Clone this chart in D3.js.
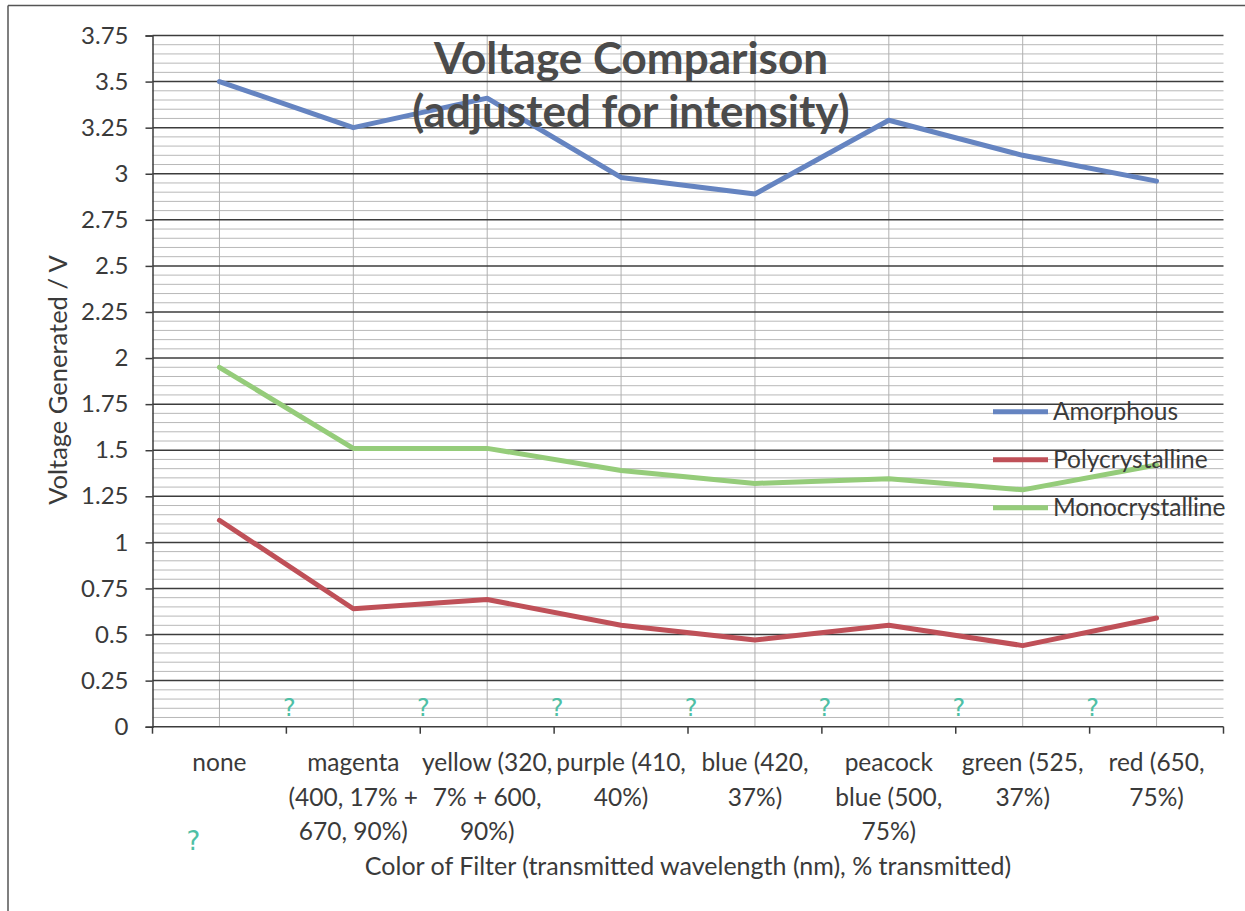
<!DOCTYPE html>
<html>
<head>
<meta charset="utf-8">
<script src="https://cdn.jsdelivr.net/npm/d3@7"></script>
<style>
  body { margin: 0; background: #fff; }
  svg { display: block; }
  text { font-family: Lato, "Open Sans", sans-serif; fill: #3a3a3a; }
</style>
</head>
<body>
<div id="chart"></div>
<script>
// data
var categories = ["none", "magenta", "yellow", "purple", "blue", "peacock blue", "green", "red"];
var tickLines = [
  ["none"],
  ["magenta", "(400, 17% +", "670, 90%)"],
  ["yellow (320,", "7% + 600,", "90%)"],
  ["purple (410,", "40%)"],
  ["blue (420,", "37%)"],
  ["peacock", "blue (500,", "75%)"],
  ["green (525,", "37%)"],
  ["red (650,", "75%)"]
];
var amorphous = [3.50, 3.25, 3.41, 2.98, 2.89, 3.29, 3.10, 2.96];
var polycrystalline = [1.12, 0.64, 0.69, 0.55, 0.47, 0.55, 0.44, 0.59];
var monocrystalline = [1.95, 1.51, 1.51, 1.39, 1.32, 1.345, 1.285, 1.42];
var seriesNames = ["Amorphous", "Polycrystalline", "Monocrystalline"];
var yTicks = [0, 0.25, 0.5, 0.75, 1, 1.25, 1.5, 1.75, 2, 2.25, 2.5, 2.75, 3, 3.25, 3.5, 3.75];

var w = 1245, h = 911;
var colors = ["#6584c1", "#bf5058", "#95cc7a"];
var series = [amorphous, polycrystalline, monocrystalline];

var svg = d3.select("#chart").append("svg")
    .attr("width", w)
    .attr("height", h);

// outer frame (top + left edges visible in the scan)
svg.append("line").attr("x1", 8).attr("x2", w).attr("y1", 5.5).attr("y2", 5.5)
    .attr("stroke", "#555").attr("stroke-width", 1.5);
svg.append("line").attr("x1", 8).attr("x2", 8).attr("y1", 5.5).attr("y2", h)
    .attr("stroke", "#555").attr("stroke-width", 1.5);

var plotL = 152.5, plotR = 1223.5, plotT = 35.5, plotB = 726.7;

var xScale = d3.scaleBand()
    .domain(categories)
    .range([plotL, plotR])
    .padding(0);

var yScale = d3.scaleLinear()
    .domain([0, 3.75])
    .range([plotB, plotT]);

var xc = function (c) { return xScale(c) + xScale.bandwidth() / 2; };

//MINOR GRID
var minor = d3.range(0, 3.7501, 0.05).filter(function (v) {
    return Math.abs(v / 0.25 - Math.round(v / 0.25)) > 1e-6;
});
svg.append("g").selectAll("line").data(minor).join("line")
    .attr("x1", plotL).attr("x2", plotR)
    .attr("y1", function (d) { return yScale(d); })
    .attr("y2", function (d) { return yScale(d); })
    .attr("stroke", "#b8b8b8").attr("stroke-width", 1);

//VERTICAL GRID at category centres
svg.append("g").selectAll("line").data(categories).join("line")
    .attr("x1", function (d) { return xc(d); })
    .attr("x2", function (d) { return xc(d); })
    .attr("y1", plotT).attr("y2", plotB)
    .attr("stroke", "#b0b0b0").attr("stroke-width", 1);

//MAIN GRID
svg.append("g").selectAll("line").data(yTicks.slice(1)).join("line")
    .attr("x1", plotL).attr("x2", plotR)
    .attr("y1", function (d) { return yScale(d); })
    .attr("y2", function (d) { return yScale(d); })
    .attr("stroke", "#3c3c3c").attr("stroke-width", 1.5);

// y axis
var yAxis = d3.axisLeft(yScale)
    .tickValues(yTicks)
    .tickSize(7)
    .tickPadding(17)
    .tickFormat(function (d) { return String(+d.toFixed(2)); });
var gy = svg.append("g").attr("transform", "translate(" + plotL + ",0)").call(yAxis);
gy.select(".domain").attr("stroke", "#3c3c3c").attr("stroke-width", 1.5);
gy.selectAll(".tick line").attr("stroke", "#3c3c3c").attr("stroke-width", 1.5);
gy.selectAll(".tick text")
    .style("font-family", "Lato, sans-serif")
    .style("font-size", "24px")
    .style("fill", "#3a3a3a");

// x axis line and boundary ticks
svg.append("line").attr("x1", plotL).attr("x2", plotR).attr("y1", plotB).attr("y2", plotB)
    .attr("stroke", "#3c3c3c").attr("stroke-width", 1.5);
var bounds = categories.map(function (c) { return xScale(c); }).concat([plotR]);
svg.append("g").selectAll("line").data(bounds).join("line")
    .attr("x1", function (d) { return d; }).attr("x2", function (d) { return d; })
    .attr("y1", plotB).attr("y2", plotB + 7)
    .attr("stroke", "#3c3c3c").attr("stroke-width", 1.5);

// x tick labels (wrapped like Excel)
var xl = svg.append("g");
categories.forEach(function (c, i) {
    var t = xl.append("text")
        .attr("text-anchor", "middle")
        .attr("x", xc(c))
        .attr("y", 771)
        .style("font-size", "24.5px");
    tickLines[i].forEach(function (s, j) {
        t.append("tspan").attr("x", xc(c)).attr("dy", j ? 34.5 : 0).text(s);
    });
});

// series lines
var lineGenerator = d3.line()
    .x(function (d, i) { return xc(categories[i]); })
    .y(function (d) { return yScale(d); });

series.forEach(function (s, k) {
    svg.append("path")
        .attr("d", lineGenerator(s))
        .attr("fill", "none")
        .attr("stroke", colors[k])
        .attr("stroke-width", 5)
        .attr("stroke-linejoin", "round")
        .attr("stroke-linecap", "round");
});

// title
var title = svg.append("text")
    .attr("text-anchor", "middle")
    .attr("x", 631)
    .attr("y", 74)
    .style("font-size", "44px")
    .style("font-weight", "bold")
    .style("fill", "#4b4b4b");
title.append("tspan").attr("x", 631).text("Voltage Comparison");
title.append("tspan").attr("x", 631).attr("dy", 53).text("(adjusted for intensity)");

// axis titles
svg.append("text")
    .attr("text-anchor", "middle")
    .attr("transform", "translate(67,380) rotate(-90)")
    .style("font-size", "25.5px")
    .text("Voltage Generated / V");

svg.append("text")
    .attr("text-anchor", "middle")
    .attr("x", (plotL + plotR) / 2)
    .attr("y", 875)
    .style("font-size", "25px")
    .text("Color of Filter (transmitted wavelength (nm), % transmitted)");

// legend
var legend = svg.append("g");
seriesNames.forEach(function (n, k) {
    var ly = 411.7 + k * 48;
    legend.append("line")
        .attr("x1", 993).attr("x2", 1048)
        .attr("y1", ly).attr("y2", ly)
        .attr("stroke", colors[k]).attr("stroke-width", 5);
    legend.append("text")
        .attr("x", 1053).attr("y", ly + 8.5)
        .style("font-size", "24.5px")
        .text(n);
});

// handwritten "?" marks sitting on the category boundaries
var marks = bounds.slice(1, 8);
svg.append("g").selectAll("text").data(marks).join("text")
    .attr("x", function (d) { return d + 3; })
    .attr("y", yScale(0.06))
    .attr("text-anchor", "middle")
    .style("font-family", "'DejaVu Sans', sans-serif")
    .style("font-size", "24px")
    .style("fill", "#4fbfa5")
    .text("?");
svg.append("text")
    .attr("x", xc(categories[0]) - 26)
    .attr("y", 850)
    .attr("text-anchor", "middle")
    .style("font-family", "'DejaVu Sans', sans-serif")
    .style("font-size", "26px")
    .style("fill", "#4fbfa5")
    .text("?");
</script>
</body>
</html>
